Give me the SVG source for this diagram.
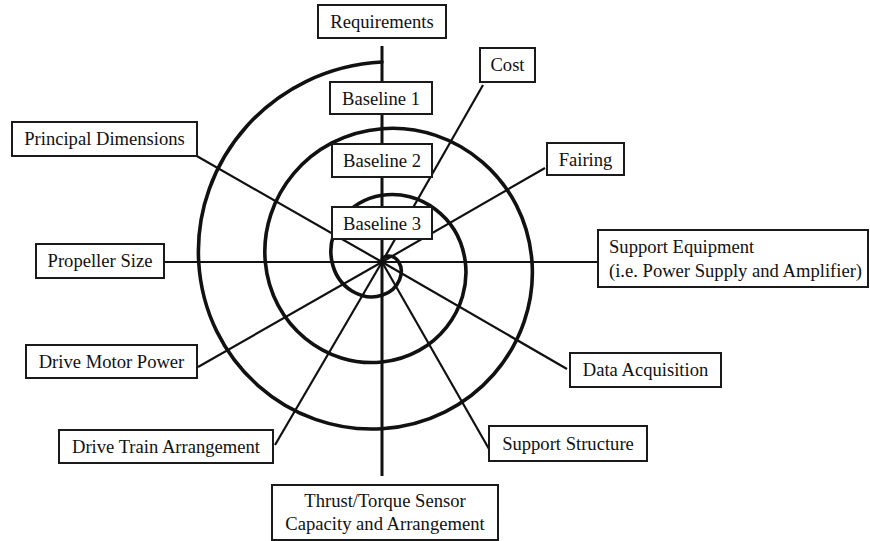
<svg xmlns="http://www.w3.org/2000/svg" width="870" height="541" viewBox="0 0 870 541">
<style>
.box rect{fill:#fff;stroke:#1a1a1a;stroke-width:2}
.box text{font-family:"Liberation Serif","Times New Roman",serif;font-size:18.6px;fill:#111;text-anchor:middle}
.spoke{stroke:#111;stroke-width:2.2;fill:none}
.spiral{stroke:#111;stroke-width:3.6;fill:none;stroke-linecap:round}
</style>
<rect width="870" height="541" fill="#fff"/>
<g id="connectors">
<line class="spoke" x1="382" y1="46" x2="382" y2="476" style="stroke-width:3"/>
<line class="spoke" x1="164" y1="262" x2="598" y2="262"/>
<line class="spoke" x1="483" y1="85" x2="382" y2="262"/>
<line class="spoke" x1="545" y1="168" x2="382" y2="262"/>
<line class="spoke" x1="195" y1="155" x2="382" y2="262"/>
<line class="spoke" x1="198" y1="367" x2="382" y2="262"/>
<line class="spoke" x1="275" y1="445" x2="382" y2="262"/>
<line class="spoke" x1="567" y1="369" x2="382" y2="262"/>
<line class="spoke" x1="489" y1="449" x2="382" y2="262"/>
<path class="spiral" d="M 382 62 C 271.5 67.9 192.8 160.8 198.7 262 C 204.6 363.3 290 434.6 382 428.7 C 474.1 422.8 537.9 344.9 532 262 C 526.1 179.2 455.6 122.8 382 128.7 C 308.4 134.6 259.4 197.6 265.3 262 C 271.2 326.4 326.8 367.9 382 362 C 437.2 356.1 471.2 308 465.3 262 C 459.4 216 418.8 189.4 382 195.3 C 345.2 201.2 326.1 234.4 332 262 C 337.9 289.6 363.6 301.2 382 295.3 C 400.4 289.4 404.6 271.2 398.7 262 C 392.8 252.8 382 256.1 382 260"/>
</g>
<g id="requirements" class="box"><rect x="318" y="5" width="128" height="33"/><text x="382" y="28">Requirements</text></g>
<g id="baseline1" class="box"><rect x="330" y="82" width="102" height="32"/><text x="381" y="104.5">Baseline 1</text></g>
<g id="baseline2" class="box"><rect x="332" y="144" width="100" height="33"/><text x="382" y="167">Baseline 2</text></g>
<g id="baseline3" class="box"><rect x="332" y="207" width="100" height="32"/><text x="382" y="229.5">Baseline 3</text></g>
<g id="cost" class="box"><rect x="480" y="48" width="55" height="34"/><text x="507.5" y="71">Cost</text></g>
<g id="fairing" class="box"><rect x="547" y="143" width="77" height="32"/><text x="585.5" y="165.5">Fairing</text></g>
<g id="principal-dimensions" class="box"><rect x="12" y="122" width="185" height="34"/><text x="104.5" y="145">Principal Dimensions</text></g>
<g id="propeller-size" class="box"><rect x="36" y="244" width="128" height="34"/><text x="100" y="267">Propeller Size</text></g>
<g id="support-equipment" class="box"><rect x="598" y="230" width="270" height="57"/><text x="609" y="253" style="text-anchor:start">Support Equipment</text><text x="609" y="277" style="text-anchor:start">(i.e. Power Supply and Amplifier)</text></g>
<g id="drive-motor-power" class="box"><rect x="26" y="345" width="171" height="33"/><text x="111.5" y="368">Drive Motor Power</text></g>
<g id="drive-train-arrangement" class="box"><rect x="59" y="430" width="214" height="33"/><text x="166" y="453">Drive Train Arrangement</text></g>
<g id="data-acquisition" class="box"><rect x="570" y="353" width="151" height="34"/><text x="645.5" y="376">Data Acquisition</text></g>
<g id="support-structure" class="box"><rect x="489" y="426" width="158" height="35"/><text x="568" y="449.5">Support Structure</text></g>
<g id="thrust-torque-sensor" class="box"><rect x="272" y="485" width="226" height="55"/><text x="385" y="507">Thrust/Torque Sensor</text><text x="385" y="530">Capacity and Arrangement</text></g>
</svg>
